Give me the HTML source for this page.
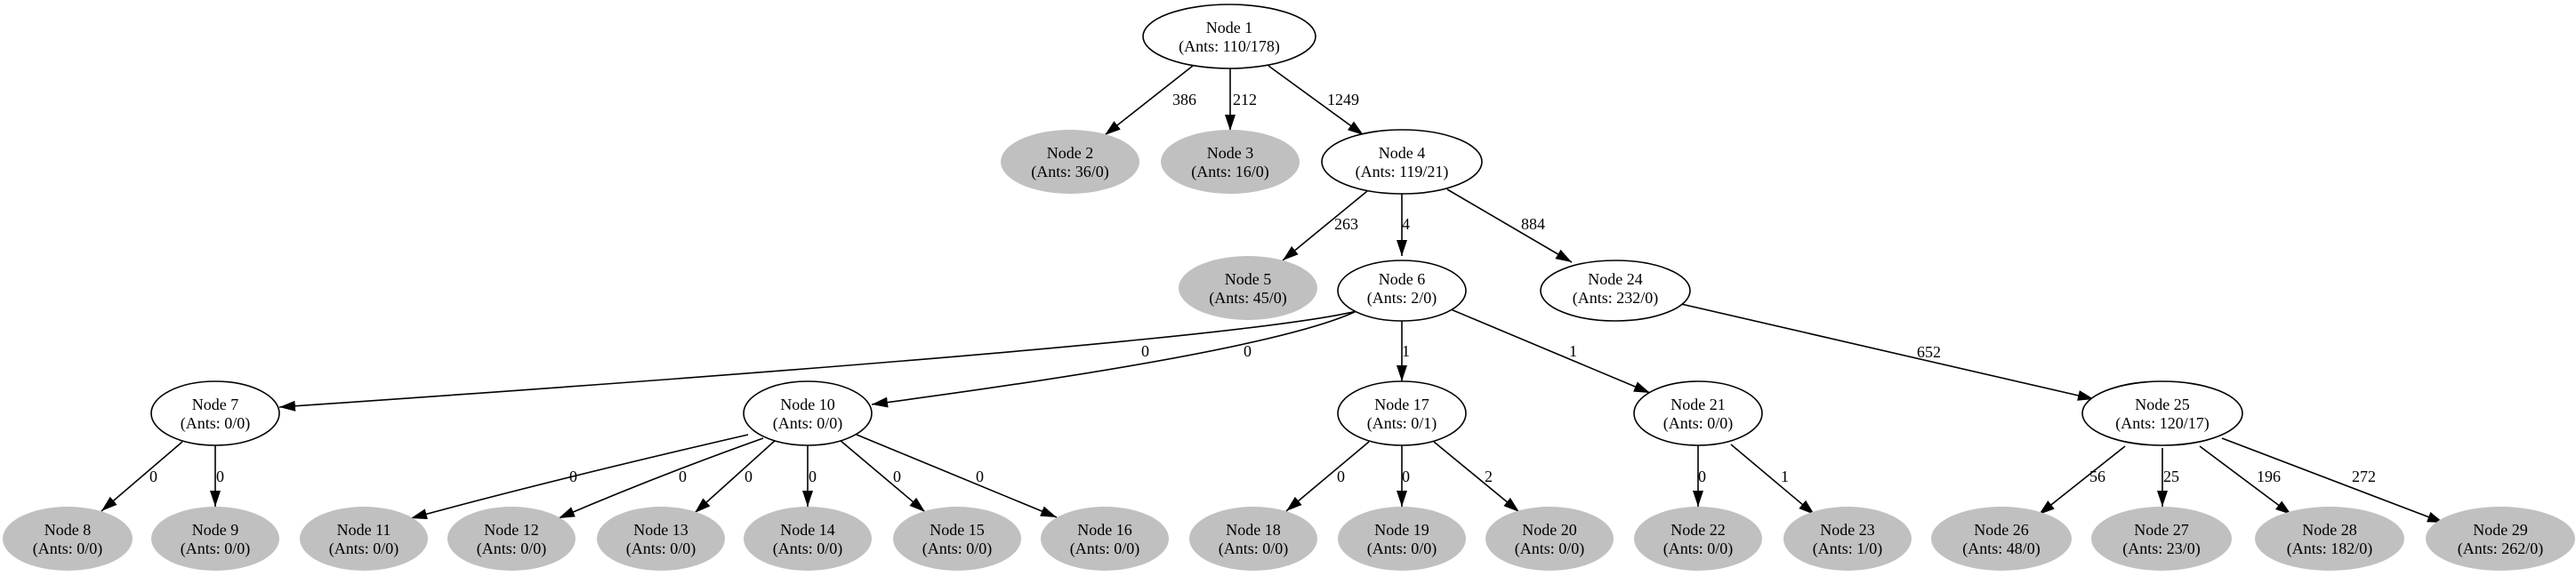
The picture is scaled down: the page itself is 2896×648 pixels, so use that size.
<!DOCTYPE html>
<html><head><meta charset="utf-8"><style>
html,body{margin:0;padding:0;background:#fff;}
svg{display:block;}
text{font-family:"Liberation Serif",serif;font-size:18px;fill:#000;}
</style></head><body>
<svg width="2896" height="648" viewBox="0 0 2896 648" xmlns="http://www.w3.org/2000/svg">
<defs>
<marker id="a" markerWidth="18" markerHeight="12" refX="18" refY="6" orient="auto" markerUnits="userSpaceOnUse">
<path d="M0,0 L18,6 L0,12 z" fill="#000"/>
</marker>
</defs>
<g stroke="#000" stroke-width="1.6" fill="none" marker-end="url(#a)">
<path d="M1341,74 L1242,152"/>
<path d="M1383,77 L1383,147"/>
<path d="M1426,74 L1533,152"/>
<path d="M1537,215 L1442,293"/>
<path d="M1576,218 L1576,288"/>
<path d="M1627,213 L1767,295"/>
<path d="M1890,342 L2354,449"/>
<path d="M1525,350 Q1380,385 314,458"/>
<path d="M1525,350 Q1430,395 980,455"/>
<path d="M1576,360 L1576,429"/>
<path d="M1631,348 L1855,442"/>
<path d="M1539,497 L1446,575"/>
<path d="M1576,501 L1576,570"/>
<path d="M1612,497 L1708,576"/>
<path d="M1909,501 L1909,570"/>
<path d="M1946,500 L2040,579"/>
<path d="M2389,502 L2292,579"/>
<path d="M2431,504 L2431,570"/>
<path d="M2473,502 L2576,579"/>
<path d="M2498,493 L2747,588"/>
<path d="M205,497 L114,575"/>
<path d="M242,501 L242,570"/>
<path d="M841,489 Q620,540 462,583"/>
<path d="M858,493 Q740,535 628,583"/>
<path d="M872,495 L781,577"/>
<path d="M908,501 L908,570"/>
<path d="M944,495 L1040,576"/>
<path d="M963,489 L1188,582"/>
</g>
<g font-size="18">
<text x="1318" y="118">386</text>
<text x="1386" y="118">212</text>
<text x="1492" y="118">1249</text>
<text x="1500" y="258">263</text>
<text x="1576" y="258">4</text>
<text x="1710" y="258">884</text>
<text x="1283" y="401">0</text>
<text x="1398" y="401">0</text>
<text x="1576" y="401">1</text>
<text x="1764" y="401">1</text>
<text x="2155" y="402">652</text>
<text x="168" y="542">0</text>
<text x="243" y="542">0</text>
<text x="640" y="542">0</text>
<text x="763" y="542">0</text>
<text x="837" y="542">0</text>
<text x="909" y="542">0</text>
<text x="1004" y="542">0</text>
<text x="1097" y="542">0</text>
<text x="1503" y="542">0</text>
<text x="1576" y="542">0</text>
<text x="1669" y="542">2</text>
<text x="1909" y="542">0</text>
<text x="2002" y="542">1</text>
<text x="2349" y="542">56</text>
<text x="2432" y="542">25</text>
<text x="2537" y="542">196</text>
<text x="2644" y="542">272</text>
</g>
<g stroke="#000" stroke-width="1.6" fill="#fff">
<ellipse cx="1382" cy="41" rx="97" ry="36"/>
<ellipse cx="1576" cy="182" rx="90" ry="36"/>
<ellipse cx="1576" cy="327" rx="72" ry="34"/>
<ellipse cx="1816" cy="327" rx="84" ry="34"/>
<ellipse cx="242" cy="465" rx="72" ry="36"/>
<ellipse cx="908" cy="465" rx="72" ry="36"/>
<ellipse cx="1576" cy="465" rx="72" ry="36"/>
<ellipse cx="1909" cy="465" rx="72" ry="36"/>
<ellipse cx="2431" cy="465" rx="90" ry="36"/>
</g>
<g fill="#c0c0c0">
<ellipse cx="1203" cy="182" rx="78" ry="36"/>
<ellipse cx="1383" cy="182" rx="78" ry="36"/>
<ellipse cx="1403" cy="324" rx="78" ry="36"/>
<ellipse cx="76" cy="606" rx="73" ry="36"/>
<ellipse cx="242" cy="606" rx="72" ry="36"/>
<ellipse cx="409" cy="606" rx="72" ry="36"/>
<ellipse cx="575" cy="606" rx="72" ry="36"/>
<ellipse cx="743" cy="606" rx="72" ry="36"/>
<ellipse cx="908" cy="606" rx="72" ry="36"/>
<ellipse cx="1076" cy="606" rx="72" ry="36"/>
<ellipse cx="1242" cy="606" rx="72" ry="36"/>
<ellipse cx="1409" cy="606" rx="72" ry="36"/>
<ellipse cx="1576" cy="606" rx="72" ry="36"/>
<ellipse cx="1742" cy="606" rx="72" ry="36"/>
<ellipse cx="1909" cy="606" rx="72" ry="36"/>
<ellipse cx="2077" cy="606" rx="72" ry="36"/>
<ellipse cx="2250" cy="606" rx="79" ry="36"/>
<ellipse cx="2430" cy="606" rx="79" ry="36"/>
<ellipse cx="2619" cy="606" rx="84" ry="36"/>
<ellipse cx="2811" cy="606" rx="84" ry="36"/>
</g>
<g text-anchor="middle">
<text x="1382" y="37">Node 1</text><text x="1382" y="58">(Ants: 110/178)</text>
<text x="1203" y="178">Node 2</text><text x="1203" y="199">(Ants: 36/0)</text>
<text x="1383" y="178">Node 3</text><text x="1383" y="199">(Ants: 16/0)</text>
<text x="1576" y="178">Node 4</text><text x="1576" y="199">(Ants: 119/21)</text>
<text x="1403" y="320">Node 5</text><text x="1403" y="341">(Ants: 45/0)</text>
<text x="1576" y="320">Node 6</text><text x="1576" y="341">(Ants: 2/0)</text>
<text x="1816" y="320">Node 24</text><text x="1816" y="341">(Ants: 232/0)</text>
<text x="242" y="461">Node 7</text><text x="242" y="482">(Ants: 0/0)</text>
<text x="908" y="461">Node 10</text><text x="908" y="482">(Ants: 0/0)</text>
<text x="1576" y="461">Node 17</text><text x="1576" y="482">(Ants: 0/1)</text>
<text x="1909" y="461">Node 21</text><text x="1909" y="482">(Ants: 0/0)</text>
<text x="2431" y="461">Node 25</text><text x="2431" y="482">(Ants: 120/17)</text>
<text x="76" y="602">Node 8</text><text x="76" y="623">(Ants: 0/0)</text>
<text x="242" y="602">Node 9</text><text x="242" y="623">(Ants: 0/0)</text>
<text x="409" y="602">Node 11</text><text x="409" y="623">(Ants: 0/0)</text>
<text x="575" y="602">Node 12</text><text x="575" y="623">(Ants: 0/0)</text>
<text x="743" y="602">Node 13</text><text x="743" y="623">(Ants: 0/0)</text>
<text x="908" y="602">Node 14</text><text x="908" y="623">(Ants: 0/0)</text>
<text x="1076" y="602">Node 15</text><text x="1076" y="623">(Ants: 0/0)</text>
<text x="1242" y="602">Node 16</text><text x="1242" y="623">(Ants: 0/0)</text>
<text x="1409" y="602">Node 18</text><text x="1409" y="623">(Ants: 0/0)</text>
<text x="1576" y="602">Node 19</text><text x="1576" y="623">(Ants: 0/0)</text>
<text x="1742" y="602">Node 20</text><text x="1742" y="623">(Ants: 0/0)</text>
<text x="1909" y="602">Node 22</text><text x="1909" y="623">(Ants: 0/0)</text>
<text x="2077" y="602">Node 23</text><text x="2077" y="623">(Ants: 1/0)</text>
<text x="2250" y="602">Node 26</text><text x="2250" y="623">(Ants: 48/0)</text>
<text x="2430" y="602">Node 27</text><text x="2430" y="623">(Ants: 23/0)</text>
<text x="2619" y="602">Node 28</text><text x="2619" y="623">(Ants: 182/0)</text>
<text x="2811" y="602">Node 29</text><text x="2811" y="623">(Ants: 262/0)</text>
</g>
</svg>
</body></html>
